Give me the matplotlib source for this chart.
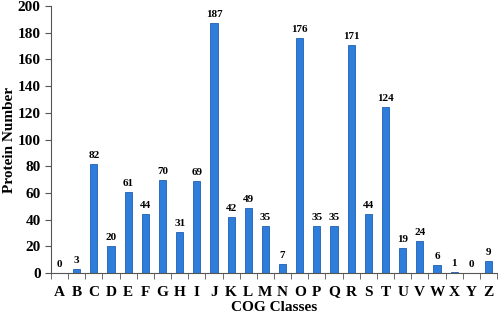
import numpy as np
import matplotlib
matplotlib.use('Agg')
import matplotlib.pyplot as plt

classes = list('ABCDEFGHIJKLMNOPQRSTUVWXYZ')
counts = [0, 3, 82, 20, 61, 44, 70, 31, 69, 187, 42, 49, 35, 7, 176,
          35, 35, 171, 44, 124, 19, 24, 6, 1, 0, 9]

plt.rcParams['font.family'] = ['Liberation Serif', 'DejaVu Serif']
plt.rcParams['font.weight'] = 'bold'

fig = plt.figure(figsize=(5, 3.15), dpi=100)
ax = fig.add_axes([0.102, 0.133, 0.892, 0.848])

x = np.arange(len(classes))
bars = ax.bar(x, counts, width=0.42, color='#2f7ddb', edgecolor='#1f5fb0', linewidth=0.6)

for xi, v in zip(x, counts):
    ax.text(xi, v + 3, str(v), ha='center', va='bottom', fontsize=8, fontweight='bold')

ax.set_xlim(-0.5, len(classes) - 0.5)
ax.set_ylim(0, 200)
ax.set_yticks(range(0, 201, 20))
ax.set_xticks(x)
ax.set_xticklabels(classes)
ax.set_xticks(np.arange(-0.5, len(classes), 1), minor=True)
ax.tick_params(axis='x', which='major', length=0, pad=9, labelsize=11)
ax.tick_params(axis='x', which='minor', length=4, direction='out', color='#555555')
ax.tick_params(axis='y', length=4, direction='out', color='#555555', labelsize=11)

for s in ['top', 'right']:
    ax.spines[s].set_visible(False)
for s in ['left', 'bottom']:
    ax.spines[s].set_color('#555555')

ax.set_xlabel('COG Classes', fontsize=11, fontweight='bold', labelpad=2)
ax.set_ylabel('Protein Number', fontsize=11, fontweight='bold', labelpad=1)

fig.savefig('out.png', dpi=100)
